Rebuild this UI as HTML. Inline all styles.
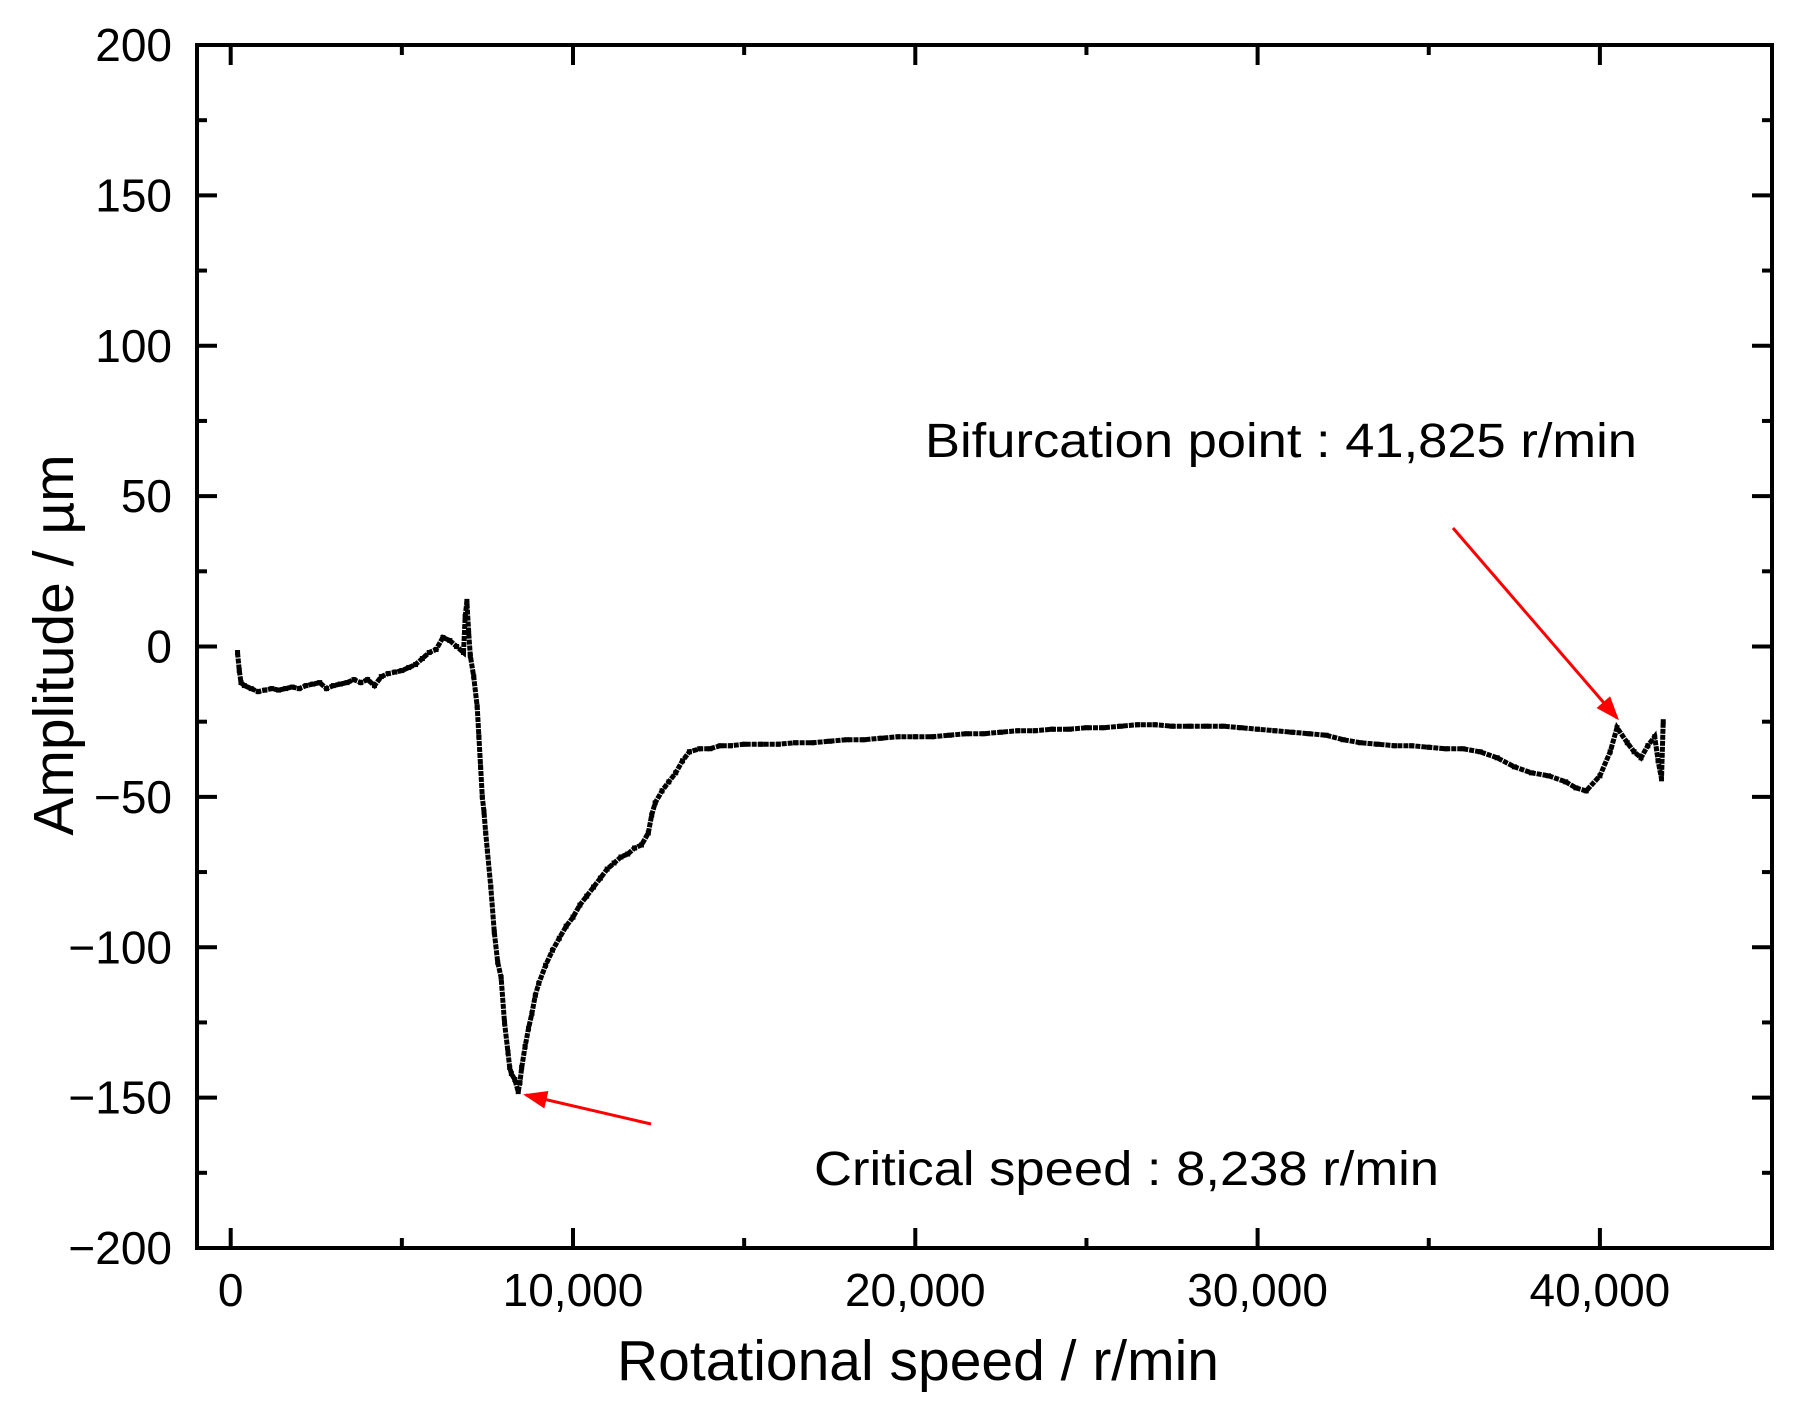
<!DOCTYPE html>
<html><head><meta charset="utf-8"><style>html,body{margin:0;padding:0;background:#fff}svg{display:block}</style></head>
<body>
<svg id="chart" width="1800" height="1410" viewBox="0 0 1800 1410" xmlns="http://www.w3.org/2000/svg" font-family="Liberation Sans, sans-serif">
<defs><marker id="ah" markerWidth="8" markerHeight="6" refX="7" refY="3" orient="auto" markerUnits="strokeWidth"><path d="M0,0 L8,3 L0,6 z" fill="#ff0000"/></marker></defs>
<g id="plot"></g>
<rect x="197" y="45" width="1575" height="1203" fill="none" stroke="#000" stroke-width="4"/>
<g id="ticks"></g>
<text x="918" y="1380" font-size="57" text-anchor="middle">Rotational speed / r/min</text>
<text x="0" y="0" font-size="57" text-anchor="middle" transform="translate(73,645) rotate(-90)">Amplitude / µm</text>
<text x="925" y="457" font-size="48" textLength="712" lengthAdjust="spacingAndGlyphs">Bifurcation point : 41,825 r/min</text>
<text x="814" y="1185" font-size="48" textLength="625" lengthAdjust="spacingAndGlyphs">Critical speed : 8,238 r/min</text>
<line x1="651" y1="1124" x2="526" y2="1095" stroke="#ff0000" stroke-width="3" marker-end="url(#ah)"/>
<line x1="1453" y1="528" x2="1617" y2="718" stroke="#ff0000" stroke-width="3" marker-end="url(#ah)"/>
</svg>
<script>
const speeds=[200,250,300,400,600,800,1000,1200,1400,1600,1800,2000,2200,2400,2600,2800,3000,3200,3400,3600,3800,4000,4200,4400,4600,4800,5000,5200,5400,5600,5800,6000,6200,6400,6600,6800,6850,6900,6950,7000,7100,7200,7250,7300,7350,7400,7450,7500,7600,7700,7800,7900,8000,8100,8150,8200,8300,8400,8450,8500,8600,8700,8800,8900,9000,9200,9400,9600,9800,10000,10200,10400,10600,10800,11000,11200,11400,11600,11800,12000,12200,12300,12400,12600,12800,13000,13200,13400,13700,14000,14300,14600,15000,15500,16000,16500,17000,17500,18000,18500,19000,19500,20000,20500,21000,21500,22000,22500,23000,23500,24000,24500,25000,25500,26000,26500,27000,27500,28000,28500,29000,29500,30000,30500,31000,31500,32000,32500,33000,33500,34000,34500,35000,35500,36000,36500,37000,37500,38000,38500,39000,39300,39600,40000,40300,40500,40800,41000,41200,41400,41600,41700,41800,41850];
const amplitudes=[-2,-8,-12,-13,-14,-15,-14.5,-14,-14.5,-14,-13.5,-14,-13,-12.5,-12,-14,-13,-12.5,-12,-11,-12,-11,-13,-10,-9,-8.5,-8,-7,-6,-4,-2,-1,3,2,0,-2,10,15,5,-3,-10,-20,-30,-40,-50,-55,-62,-68,-80,-95,-105,-110,-125,-135,-140,-142,-144,-148,-145,-140,-133,-127,-122,-116,-112,-106,-101,-97,-93,-90,-86,-83,-80,-77,-74,-72,-70,-69,-67,-66,-62,-56,-52,-48,-45,-42,-38,-35,-34,-34,-33,-33,-32.5,-32.5,-32.5,-32,-32,-31.5,-31,-31,-30.5,-30,-30,-30,-29.5,-29,-29,-28.5,-28,-28,-27.5,-27.5,-27,-27,-26.5,-26,-26,-26.5,-26.5,-26.5,-26.5,-27,-27.5,-28,-28.5,-29,-29.5,-31,-32,-32.5,-33,-33,-33.5,-34,-34,-35,-37,-40,-42,-43,-45,-47,-48,-43,-35,-27,-32,-35,-37,-33,-30,-38,-44,-25];
const yTicks=[200,150,100,50,0,-50,-100,-150,-200];
const yTickLabels=["200","150","100","50","0","\u221250","\u2212100","\u2212150","\u2212200"];
const xTicks=[0,10000,20000,30000,40000];
const xTickLabels=["0","10,000","20,000","30,000","40,000"];
const X0=230.7, XS=342.3/10000, Y0=646.5, YS=1203/400;
function sx(v){return X0+v*XS;}
function sy(v){return Y0-v*YS;}
const NS='http://www.w3.org/2000/svg';
const plot=document.getElementById('plot'), tk=document.getElementById('ticks');
function mk(t,a,p){const e=document.createElementNS(NS,t);for(const k in a)e.setAttribute(k,a[k]);p.appendChild(e);return e;}
const pl=mk('polyline',{points:speeds.map((s,i)=>sx(s).toFixed(1)+','+sy(amplitudes[i]).toFixed(1)).join(' '),fill:'none',stroke:'#000','stroke-width':5,'stroke-dasharray':'5 1'},plot);


speeds.forEach((s,i)=>{
  const r=mk('rect',{x:sx(s)-2.5,y:sy(amplitudes[i])-2.5,width:5,height:5,fill:'#000'},plot);
  
  
});
for(let v=-200;v<=200;v+=25){
  const major=v%50===0, L=major?20:10, y=sy(v);
  const a=mk('line',{x1:197,x2:197+L,y1:y,y2:y,stroke:'#000','stroke-width':4},tk);
  
  
  const b=mk('line',{x1:1772,x2:1772-L,y1:y,y2:y,stroke:'#000','stroke-width':4},tk);
  
  
}
yTicks.forEach((v,i)=>{
  const t=mk('text',{x:172,y:sy(v)+16,'font-size':46,'text-anchor':'end'},tk);t.textContent=yTickLabels[i];
  
  
});
for(let v=0;v<=45000;v+=5000){
  const major=v%10000===0, L=major?20:10, x=sx(v);
  if(x>1770)continue;
  const a=mk('line',{x1:x,x2:x,y1:1248,y2:1248-L,stroke:'#000','stroke-width':4},tk);
  
  
  const b=mk('line',{x1:x,x2:x,y1:45,y2:45+L,stroke:'#000','stroke-width':4},tk);
  
  
}
xTicks.forEach((v,i)=>{
  const t=mk('text',{x:sx(v),y:1306,'font-size':46,'text-anchor':'middle'},tk);t.textContent=xTickLabels[i];
  
  
});
</script>
</body></html>
